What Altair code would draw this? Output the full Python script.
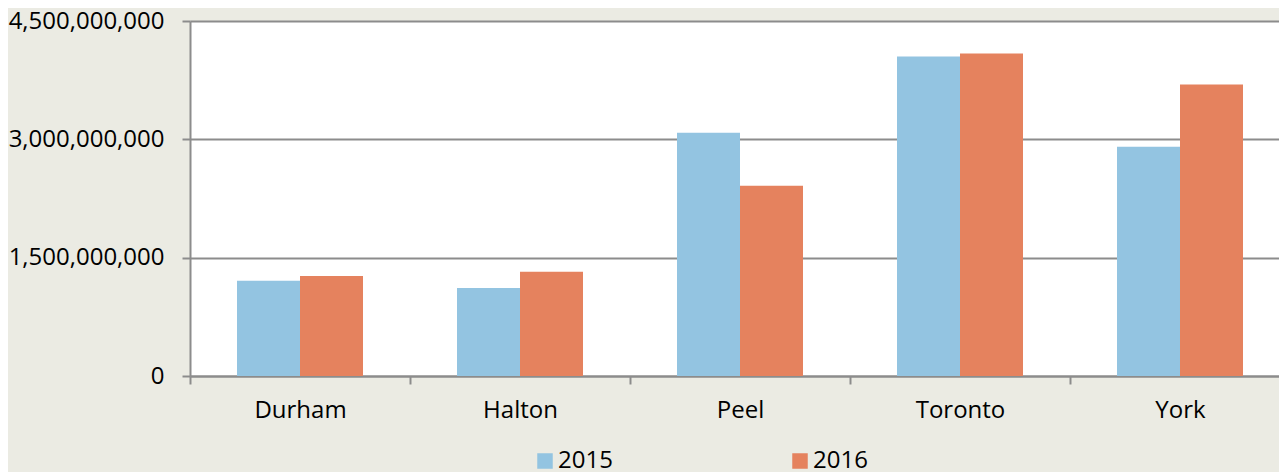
import altair as alt
import pandas as pd

regions = ["Durham", "Halton", "Peel", "Toronto", "York"]
years = ["2015", "2016"]
values_2015 = [1.206e9, 1.117e9, 3.085e9, 4.049e9, 2.907e9]
values_2016 = [1.269e9, 1.320e9, 2.412e9, 4.087e9, 3.694e9]
y_ticks = [0, 1.5e9, 3.0e9, 4.5e9]

rows = []
for r, a, b in zip(regions, values_2015, values_2016):
    rows.append({"region": r, "year": "2015", "value": a})
    rows.append({"region": r, "year": "2016", "value": b})
df = pd.DataFrame(rows)

FONT = "Open Sans"
GRID = "#8C8C8C"

chart = alt.Chart(df).mark_bar().encode(
    x=alt.X("region:N", sort=regions, title=None,
            scale=alt.Scale(range=[0, 1100], paddingInner=0, paddingOuter=0),
            axis=alt.Axis(labelAngle=0, tickBand="extent", ticks=True, tickSize=8,
                          tickColor=GRID, tickWidth=2, domainColor=GRID, domainWidth=2,
                          labelFont=FONT, labelFontSize=24, labelColor="#000000",
                          labelPadding=14, grid=False)),
    xOffset=alt.XOffset("year:N", sort=years,
                        scale=alt.Scale(paddingInner=0, paddingOuter=0.746)),
    y=alt.Y("value:Q", title=None,
            scale=alt.Scale(domain=[0, 4.5e9], nice=False),
            axis=alt.Axis(values=y_ticks, format=",d", tickSize=8, tickColor=GRID,
                          tickWidth=2, domainColor=GRID, domainWidth=2,
                          gridColor=GRID, gridWidth=2, grid=True,
                          labelFont=FONT, labelFontSize=24, labelColor="#000000",
                          labelPadding=18)),
    color=alt.Color("year:N", sort=years,
                    scale=alt.Scale(domain=years, range=["#93C4E1", "#E5825E"]),
                    legend=alt.Legend(title=None, orient="none", direction="horizontal",
                                      legendX=343, legendY=428, padding=0,
                                      symbolType="square",
                                      symbolSize=240, symbolStrokeWidth=0,
                                      labelFont=FONT, labelFontSize=24,
                                      labelColor="#000000", labelOffset=1,
                                      columnPadding=175)),
).properties(
    width=1089,
    height=355,
    background="#EBEBE3",
    padding={"left": 182, "top": 13, "right": 0, "bottom": 96},
    autosize=alt.AutoSizeParams(type="none"),
).configure_view(
    fill="#FFFFFF", stroke=None
)

chart.save("out.html", embed_options={"renderer": "svg", "actions": False})
